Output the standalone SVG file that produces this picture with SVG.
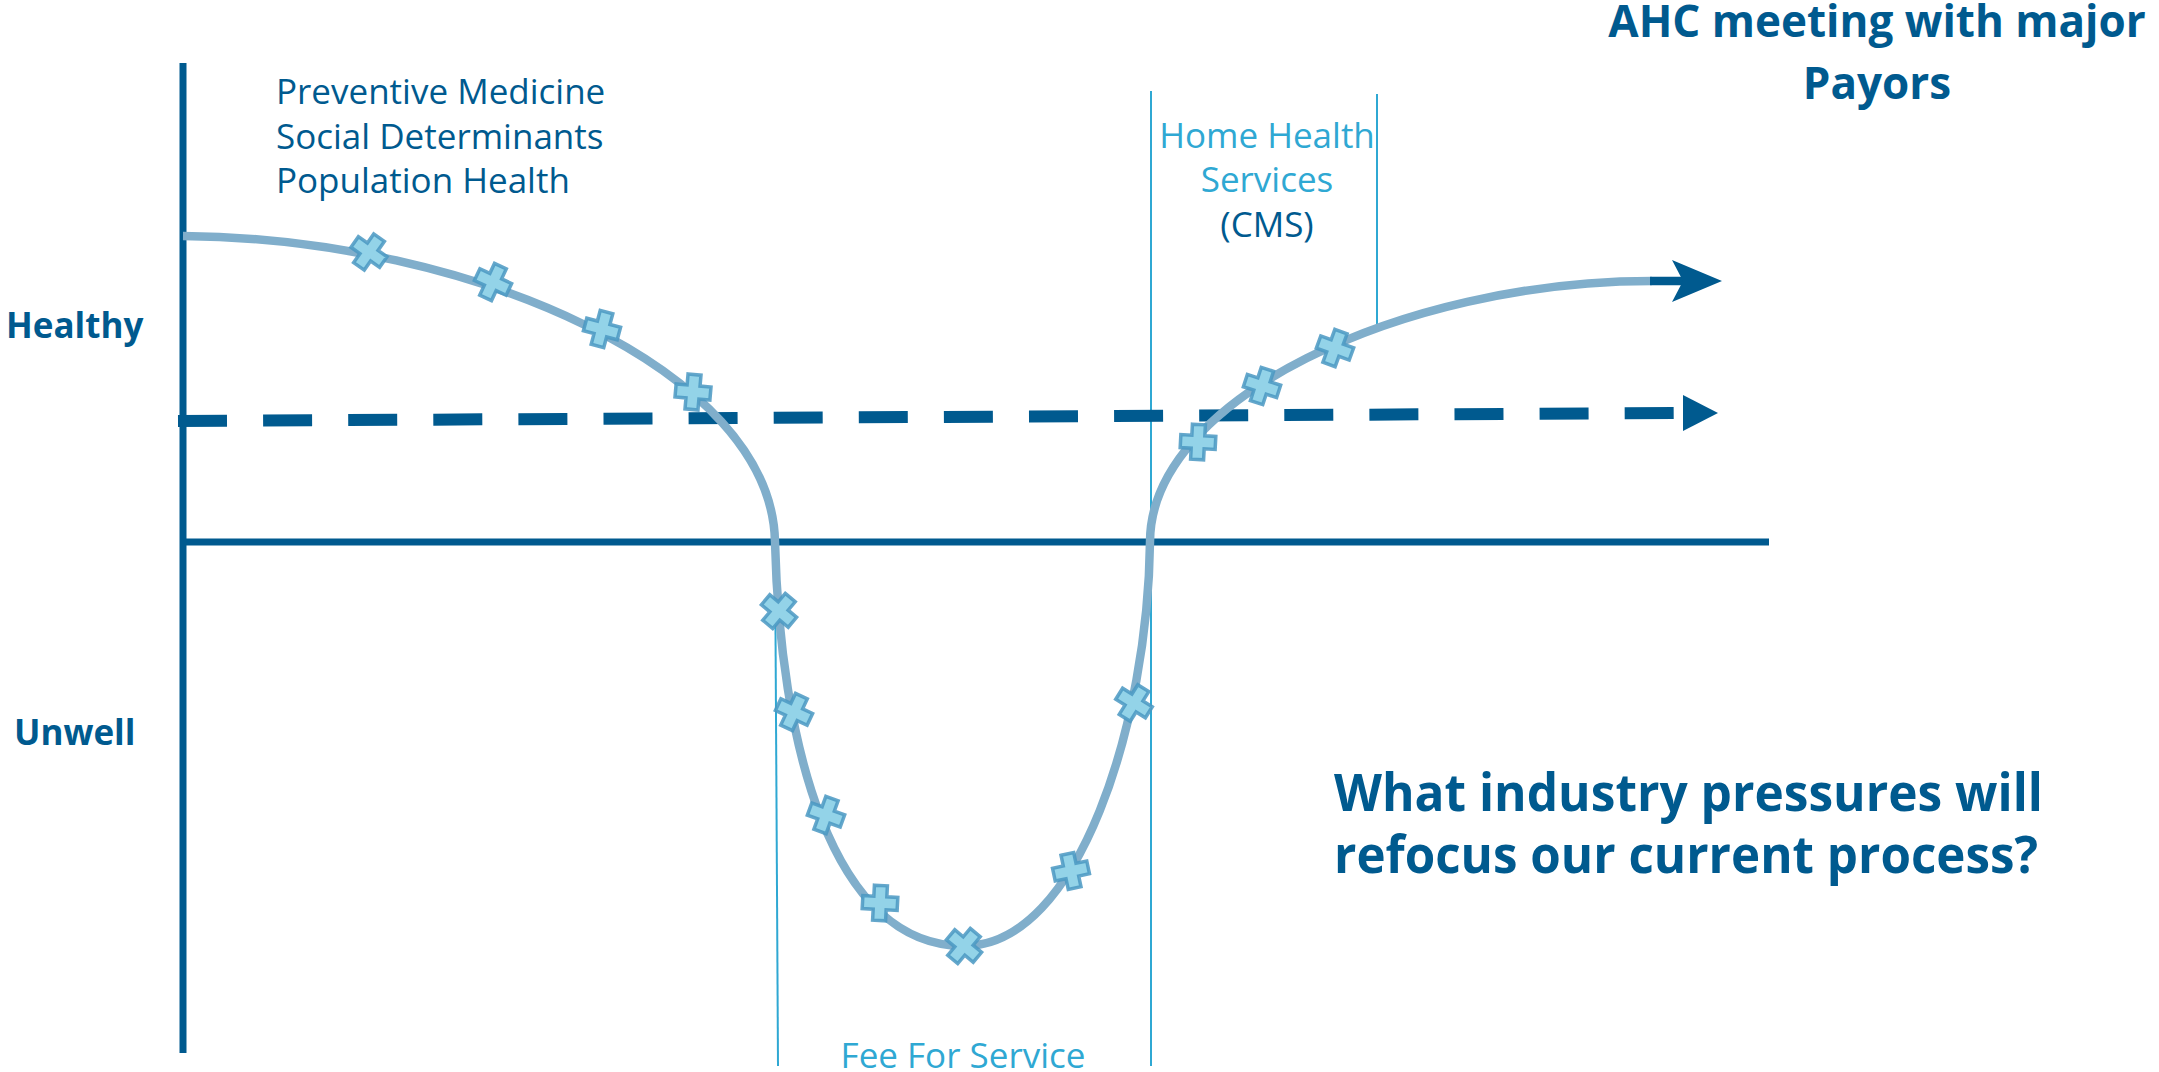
<svg xmlns="http://www.w3.org/2000/svg" width="2159" height="1072" viewBox="0 0 2159 1072">
  <style>
    .axis { stroke: #005A8F; stroke-width: 7; fill: none; }
    .thin { stroke: #2FA8D3; stroke-width: 2; fill: none; }
    .curve { stroke: #80AECB; stroke-width: 8.5; fill: none; }
    .dash { stroke: #005A8F; stroke-width: 12; fill: none; stroke-dasharray: 49 36.1; }
    .head { fill: #005A8F; }
    .mk { fill: #93D3E8; stroke: #4A98C2; stroke-width: 3.5; stroke-opacity: 0.85; }
    .reg { font-family: "Open Sans", "Noto Sans", sans-serif; font-size: 35px; }
    .bold { font-family: "Open Sans", "Noto Sans", sans-serif; font-weight: bold; }
    .dark { fill: #005A8F; }
    .light { fill: #2FA8D3; }
  </style>
  <defs>
    <path id="cross" d="M-6.5,-17.5 H6.5 V-6.5 H17.5 V6.5 H6.5 V17.5 H-6.5 V6.5 H-17.5 V-6.5 H-6.5 Z"/>
  </defs>
  <rect width="2159" height="1072" fill="#FFFFFF"/>

  <g id="axes">
    <line class="axis" x1="183" y1="63" x2="183" y2="1053"/>
    <line class="axis" x1="180" y1="542" x2="1769" y2="542"/>
  </g>

  <g id="dividers">
    <line class="thin" x1="775" y1="540" x2="778" y2="1066"/>
    <line class="thin" x1="1151" y1="91" x2="1151" y2="1066"/>
    <line class="thin" x1="1377" y1="94" x2="1377" y2="328"/>
  </g>

  <g id="connectors">
    <g id="baseline-dashed">
      <line class="dash" x1="178" y1="421" x2="1674" y2="413"/>
      <polygon class="head" points="1683,395 1718,413 1683,431"/>
    </g>
    <g id="health-curve">
      <path class="curve" d="M183,236 C470,238 772,370 775,542 C780,740 830,946 964,946 C1080,946 1148,720 1150,542 C1150,400 1400,281 1652,281"/>
      <line x1="1650" y1="281" x2="1684" y2="281" stroke="#005A8F" stroke-width="8.5"/>
      <polygon class="head" points="1672,260 1722,281 1672,302 1683,281"/>
    </g>
  </g>

  <g id="markers">
    <use href="#cross" class="mk" transform="translate(369,252) rotate(35)"/>
    <use href="#cross" class="mk" transform="translate(493,282) rotate(25)"/>
    <use href="#cross" class="mk" transform="translate(602,329) rotate(15)"/>
    <use href="#cross" class="mk" transform="translate(693,392) rotate(5)"/>
    <use href="#cross" class="mk" transform="translate(779,611) rotate(40)"/>
    <use href="#cross" class="mk" transform="translate(794,712) rotate(25)"/>
    <use href="#cross" class="mk" transform="translate(826,815) rotate(20)"/>
    <use href="#cross" class="mk" transform="translate(880,903) rotate(3)"/>
    <use href="#cross" class="mk" transform="translate(964,946) rotate(40)"/>
    <use href="#cross" class="mk" transform="translate(1071,871) rotate(-12)"/>
    <use href="#cross" class="mk" transform="translate(1134,703) rotate(32)"/>
    <use href="#cross" class="mk" transform="translate(1198,442) rotate(3)"/>
    <use href="#cross" class="mk" transform="translate(1262,386) rotate(18)"/>
    <use href="#cross" class="mk" transform="translate(1335,348) rotate(20)"/>
  </g>

  <g id="label-healthy">
    <text class="bold dark" x="6" y="338" font-size="35">Healthy</text>
  </g>
  <g id="label-unwell">
    <text class="bold dark" x="14" y="745" font-size="35">Unwell</text>
  </g>
  <g id="label-preventive">
    <text class="reg dark" x="276" y="104">Preventive Medicine</text>
    <text class="reg dark" x="276" y="149">Social Determinants</text>
    <text class="reg dark" x="276" y="193">Population Health</text>
  </g>
  <g id="label-home-health">
    <text class="reg light" x="1267" y="148" text-anchor="middle">Home Health</text>
    <text class="reg light" x="1267" y="192" text-anchor="middle">Services</text>
    <text class="reg dark" x="1267" y="237" text-anchor="middle">(CMS)</text>
  </g>
  <g id="label-fee">
    <text class="reg light" x="963" y="1068" text-anchor="middle">Fee For Service</text>
  </g>
  <g id="title-ahc">
    <text class="bold dark" x="1877" y="37" font-size="44" text-anchor="middle">AHC meeting with major</text>
    <text class="bold dark" x="1877" y="99" font-size="44" text-anchor="middle">Payors</text>
  </g>
  <g id="question">
    <text class="bold dark" x="1334" y="811" font-size="52" textLength="709" lengthAdjust="spacingAndGlyphs">What industry pressures will</text>
    <text class="bold dark" x="1334" y="873" font-size="52" textLength="704" lengthAdjust="spacingAndGlyphs">refocus our current process?</text>
  </g>
</svg>
